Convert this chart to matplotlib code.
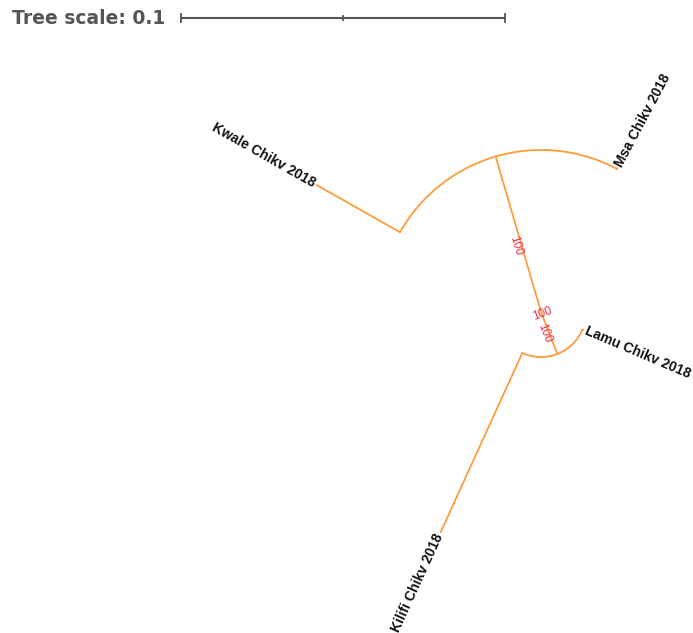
import numpy as np
import matplotlib
matplotlib.use("Agg")
import matplotlib.pyplot as plt

# Arbol circular (ramas en unidades de sustitucion)
hojas = ['Kwale Chikv 2018', 'Msa Chikv 2018', 'Lamu Chikv 2018', 'Kilifi Chikv 2018']
angulo_hoja = [150.5, 62.0, -23.0, -114.5]        # grados
padre_hoja = ['A', 'A', 'B', 'B']
rama_hoja = [0.0296, 0.0003, 0.0003, 0.0608]

nodos = ['A', 'B']
rama_nodo = [0.0500, 0.0139]                      # raiz -> nodo
bootstrap_nodo = [100, 100]
bootstrap_raiz = 100

escala = 0.1
naranja = '#ff9c3a'
rojo = '#f0304a'

# pixeles por unidad del arbol y posicion de la raiz en la figura
ppu = 3240.0
W, H = 693, 633
cx, cy = 541, 312

fig = plt.figure(figsize=(W / 100, H / 100), dpi=100)
ax = fig.add_axes([0, 0, 1, 1])
ax.set_xlim(-cx / ppu, (W - cx) / ppu)
ax.set_ylim(-(H - cy) / ppu, cy / ppu)
ax.set_aspect('equal')
ax.axis('off')


def polar(r, ang):
    t = np.deg2rad(ang)
    return r * np.cos(t), r * np.sin(t)


def radial(r0, r1, ang):
    x0, y0 = polar(r0, ang)
    x1, y1 = polar(r1, ang)
    ax.plot([x0, x1], [y0, y1], color=naranja, lw=1.3, solid_capstyle='round')


def arco(r, a0, a1):
    t = np.linspace(a0, a1, 200)
    x, y = polar(r, t)
    ax.plot(x, y, color=naranja, lw=1.3, solid_capstyle='round')


# angulo de cada nodo interno = media de sus hijos
angulo_nodo = {}
radio_nodo = {}
for n, L in zip(nodos, rama_nodo):
    hijos = [a for a, p in zip(angulo_hoja, padre_hoja) if p == n]
    angulo_nodo[n] = np.mean(hijos)
    radio_nodo[n] = L
    radial(0, L, angulo_nodo[n])
    arco(L, min(hijos), max(hijos))

for nombre, ang, p, L in zip(hojas, angulo_hoja, padre_hoja, rama_hoja):
    r0 = radio_nodo[p]
    r1 = r0 + L
    radial(r0, r1, ang)
    x, y = polar(r1 + 0.0006, ang)
    if 90 < ang % 360 < 270:
        rot, ha = ang - 180, 'right'
    else:
        rot, ha = ang, 'left'
    ax.text(x, y, nombre, rotation=rot, ha=ha, va='center', rotation_mode='anchor',
            fontsize=10, fontweight='bold', family='Liberation Sans', color='#111111')

# valores de bootstrap a mitad de rama
desfase = {'A': 4.5, 'B': -13.0}
frac = {'A': 0.44, 'B': 0.47}
for n, bs in zip(nodos, bootstrap_nodo):
    a = angulo_nodo[n]
    x, y = polar(radio_nodo[n] * frac[n], a + desfase[n])
    rot = a - 180 if 90 < a % 360 < 270 else a
    ax.text(x, y, str(bs), rotation=rot, ha='center', va='center', rotation_mode='anchor',
            fontsize=8.5, family='Liberation Sans', color=rojo)
ax.text(0.0003, -0.0004, str(bootstrap_raiz), rotation=20, ha='center', va='center',
        rotation_mode='anchor', fontsize=8.5, family='Liberation Sans', color=rojo)

# barra de escala
gris = '#555555'
x0 = (181 - cx) / ppu
yb = (cy - 18) / ppu
ax.plot([x0, x0 + escala], [yb, yb], color=gris, lw=1.5)
for xt, h in [(x0, 0.0012), (x0 + escala, 0.0012), (x0 + escala / 2, 0.0005)]:
    ax.plot([xt, xt], [yb - h, yb + h], color=gris, lw=1.3)
ax.text(x0 - 0.0048, yb, 'Tree scale: ' + str(escala), ha='right', va='center',
        fontsize=13.5, fontweight='bold', family='DejaVu Sans', color=gris)

fig.savefig('out.png', dpi=100)
